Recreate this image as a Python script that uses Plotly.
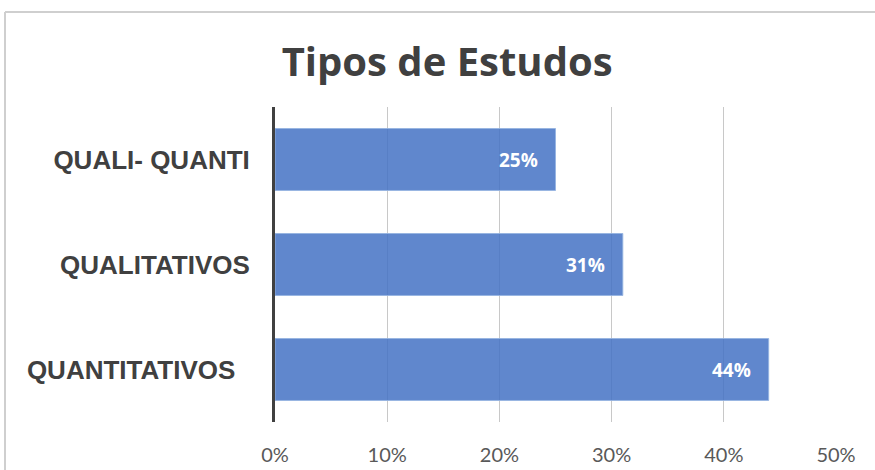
import plotly.graph_objects as go

categories = ["QUANTITATIVOS\u00a0\u00a0", "QUALITATIVOS", "QUALI- QUANTI"]
values = [0.44, 0.31, 0.25]
labels = ["44%", "31%", "25%"]

fig = go.Figure()
fig.add_trace(go.Bar(
    x=values,
    y=categories,
    orientation="h",
    width=0.59,
    marker=dict(color="rgba(68,114,196,0.85)", line=dict(color="rgba(150,180,225,0.9)", width=1)),
    hoverinfo="skip",
))

for v, c, t in zip(values, categories, labels):
    fig.add_annotation(
        x=v, y=c, text=t, showarrow=False, xanchor="right", xshift=-16,
        font=dict(family="Open Sans", size=19, color="white", weight="bold"),
    )

# outer chart border (left and top edges visible)
x0 = (5 - 275) / 561
y1 = (422 - 12) / 315
fig.add_shape(type="line", xref="paper", yref="paper", x0=x0, x1=x0, y0=-0.3, y1=y1,
              line=dict(color="#cfcfcf", width=2))
fig.add_shape(type="line", xref="paper", yref="paper", x0=x0, x1=1.2, y0=y1, y1=y1,
              line=dict(color="#cfcfcf", width=2))

fig.update_layout(
    width=875, height=470,
    margin=dict(l=275, r=39, t=107, b=48),
    paper_bgcolor="white", plot_bgcolor="white",
    showlegend=False,
    title=dict(text="Tipos de Estudos", x=0.511, xanchor="center", y=1 - 62 / 470, yanchor="middle",
               font=dict(family="Open Sans", size=40, color="#404040", weight="bold")),
    xaxis=dict(range=[0, 0.5], dtick=0.1, tickformat=".0%", showgrid=True, gridcolor="#c8c8c8",
               gridwidth=1, zeroline=False, showline=False, ticklabelstandoff=19, automargin=False,
               tickfont=dict(family="Lato", size=20, color="#595959")),
    yaxis=dict(range=[-0.5, 2.5], showline=True, linecolor="#404040", linewidth=3, showgrid=False,
               ticklabelstandoff=17, automargin=False,
               tickfont=dict(family="Liberation Sans", size=26, color="#404040", weight="bold")),
)

fig.write_html("out.html", config={"displayModeBar": False},
               post_script="document.body.style.margin='0';")
